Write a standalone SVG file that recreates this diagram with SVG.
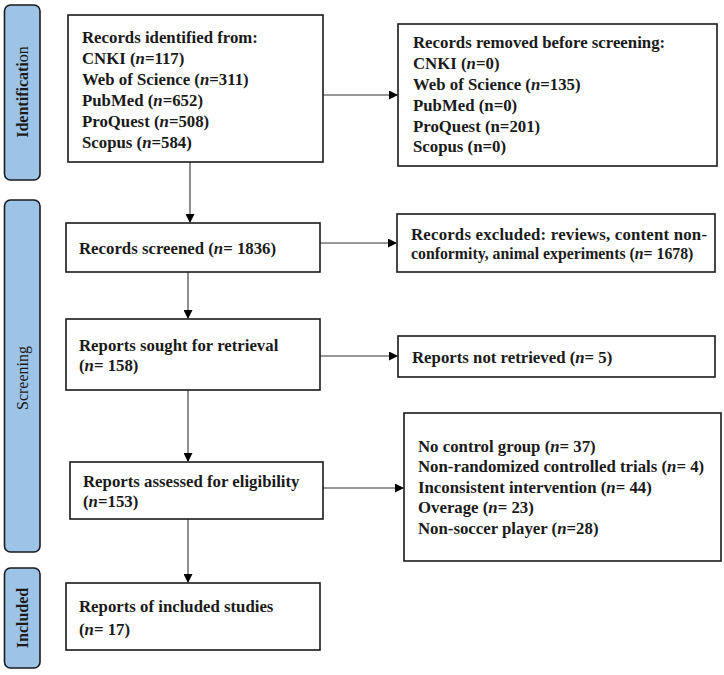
<svg xmlns="http://www.w3.org/2000/svg" width="724" height="675" viewBox="0 0 724 675">
<defs>
<marker id="ah" markerWidth="9" markerHeight="9" refX="8" refY="4.5" orient="auto" markerUnits="userSpaceOnUse">
<path d="M0,0 L9,4.5 L0,9 Z" fill="#000"/>
</marker>
<style>
.bar{fill:#9DC3E6;stroke:#1a1a1a;stroke-width:1.6}
.box{fill:#fff;stroke:#1a1a1a;stroke-width:1.6}
.t{font-family:"Liberation Serif","Times New Roman",serif;font-size:16.8px;font-weight:bold;fill:#1a1a1a}
.side{font-family:"Liberation Serif","Times New Roman",serif;font-size:16px;fill:#1a1a1a}
.c{fill:none;stroke:#333;stroke-width:1.1}
</style>
</defs>
<rect width="724" height="675" fill="#fff"/>
<g id="bar-identification">
<rect class="bar" x="4.5" y="5" width="35.5" height="175" rx="6"/>
<text class="side" transform="translate(28,92) rotate(-90)" text-anchor="middle"><tspan font-weight="bold">Identificati</tspan>on</text>
</g>
<g id="bar-screening">
<rect class="bar" x="4.5" y="200" width="35.5" height="352" rx="6"/>
<text class="side" transform="translate(28,378) rotate(-90)" text-anchor="middle">Screening</text>
</g>
<g id="bar-included">
<rect class="bar" x="4.5" y="568" width="35.5" height="100" rx="6"/>
<text class="side" font-weight="bold" transform="translate(28,618) rotate(-90)" text-anchor="middle">Included</text>
</g>
<g id="connectors">
<line class="c" x1="323" y1="95" x2="397" y2="95" marker-end="url(#ah)"/>
<line class="c" x1="190" y1="162" x2="190" y2="222" marker-end="url(#ah)"/>
<line class="c" x1="320" y1="243" x2="396" y2="243" marker-end="url(#ah)"/>
<line class="c" x1="188" y1="272" x2="188" y2="318" marker-end="url(#ah)"/>
<line class="c" x1="320" y1="356" x2="397" y2="356" marker-end="url(#ah)"/>
<line class="c" x1="188" y1="390" x2="188" y2="461" marker-end="url(#ah)"/>
<line class="c" x1="323" y1="488" x2="403" y2="488" marker-end="url(#ah)"/>
<line class="c" x1="188" y1="519" x2="188" y2="582" marker-end="url(#ah)"/>
</g>
<g id="identified">
<rect class="box" x="68" y="15" width="255" height="147"/>
<text class="t" x="82" y="43">Records identified from:</text>
<text class="t" x="82" y="64">CNKI (<tspan font-style="italic">n</tspan>=117)</text>
<text class="t" x="82" y="85">Web of Science (<tspan font-style="italic">n</tspan>=311)</text>
<text class="t" x="82" y="106">PubMed (<tspan font-style="italic">n</tspan>=652)</text>
<text class="t" x="82" y="127">ProQuest (<tspan font-style="italic">n</tspan>=508)</text>
<text class="t" x="82" y="148">Scopus (<tspan font-style="italic">n</tspan>=584)</text>
</g>
<g id="removed">
<rect class="box" x="398" y="24" width="319" height="142"/>
<text class="t" x="413" y="48">Records removed before screening:</text>
<text class="t" x="413" y="69">CNKI (<tspan font-style="italic">n</tspan>=0)</text>
<text class="t" x="413" y="90">Web of Science (<tspan font-style="italic">n</tspan>=135)</text>
<text class="t" x="413" y="111">PubMed (n=0)</text>
<text class="t" x="413" y="132">ProQuest (n=201)</text>
<text class="t" x="413" y="152">Scopus (n=0)</text>
</g>
<g id="screened">
<rect class="box" x="66" y="223" width="254" height="49"/>
<text class="t" x="79" y="254">Records screened (<tspan font-style="italic">n</tspan>= 1836)</text>
</g>
<g id="excluded">
<rect class="box" x="397" y="214" width="318" height="58"/>
<text class="t" x="411" y="240" textLength="296" lengthAdjust="spacing">Records excluded: reviews, content non-</text>
<text class="t" x="411" y="259" style="font-size:15.8px">conformity, animal experiments (<tspan font-style="italic">n</tspan>= 1678)</text>
</g>
<g id="sought">
<rect class="box" x="66" y="319" width="254" height="71"/>
<text class="t" x="79" y="351">Reports sought for retrieval</text>
<text class="t" x="79" y="371">(<tspan font-style="italic">n</tspan>= 158)</text>
</g>
<g id="not-retrieved">
<rect class="box" x="398" y="336" width="317" height="41"/>
<text class="t" x="412" y="363">Reports not retrieved (<tspan font-style="italic">n</tspan>= 5)</text>
</g>
<g id="assessed">
<rect class="box" x="70" y="462" width="253" height="57"/>
<text class="t" x="83" y="487">Reports assessed for eligibility</text>
<text class="t" x="83" y="507">(<tspan font-style="italic">n</tspan>=153)</text>
</g>
<g id="reasons">
<rect class="box" x="404" y="413" width="317" height="148"/>
<text class="t" x="418" y="452">No control group (<tspan font-style="italic">n</tspan>= 37)</text>
<text class="t" x="418" y="472">Non-randomized controlled trials (<tspan font-style="italic">n</tspan>= 4)</text>
<text class="t" x="418" y="493">Inconsistent intervention (<tspan font-style="italic">n</tspan>= 44)</text>
<text class="t" x="418" y="513">Overage (<tspan font-style="italic">n</tspan>= 23)</text>
<text class="t" x="418" y="534">Non-soccer player (<tspan font-style="italic">n</tspan>=28)</text>
</g>
<g id="included">
<rect class="box" x="66" y="583" width="254" height="67"/>
<text class="t" x="79" y="612">Reports of included studies</text>
<text class="t" x="79" y="635">(<tspan font-style="italic">n</tspan>= 17)</text>
</g>
</svg>
